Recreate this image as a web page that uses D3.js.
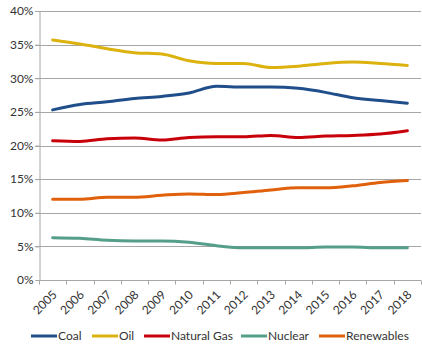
<!DOCTYPE html>
<html>
<head>
<meta charset="utf-8">
<script src="https://cdn.jsdelivr.net/npm/d3@7"></script>
<style>
  html, body { margin: 0; padding: 0; background: #fff; }
  svg { display: block; }
  text { font-family: Lato, "Open Sans", sans-serif; fill: #333; }
</style>
</head>
<body>
<svg id="chart" width="422" height="345"></svg>
<script>
// Share of primary energy by source, 2005–2018
const years = ["2005","2006","2007","2008","2009","2010","2011","2012","2013","2014","2015","2016","2017","2018"];
const coal       = [25.3, 26.1, 26.5, 27.0, 27.3, 27.8, 28.8, 28.7, 28.7, 28.5, 27.9, 27.1, 26.7, 26.3];
const oil        = [35.7, 35.1, 34.4, 33.8, 33.6, 32.6, 32.2, 32.2, 31.6, 31.8, 32.2, 32.4, 32.2, 31.9];
const naturalGas = [20.7, 20.6, 21.0, 21.1, 20.8, 21.2, 21.3, 21.3, 21.5, 21.2, 21.4, 21.5, 21.7, 22.2];
const nuclear    = [6.3, 6.2, 5.9, 5.8, 5.8, 5.6, 5.1, 4.8, 4.8, 4.8, 4.9, 4.9, 4.8, 4.8];
const renewables = [12.0, 12.0, 12.3, 12.3, 12.6, 12.8, 12.7, 13.0, 13.4, 13.7, 13.7, 14.0, 14.5, 14.8];
const yTicks = [0, 5, 10, 15, 20, 25, 30, 35, 40];

const series = [
  { name: "Coal",        values: coal,       color: "#1f4e8a" },
  { name: "Oil",         values: oil,        color: "#dcb20e" },
  { name: "Natural Gas", values: naturalGas, color: "#c8000a" },
  { name: "Nuclear",     values: nuclear,    color: "#559e8a" },
  { name: "Renewables",  values: renewables, color: "#e0600c" }
];

const svg = d3.select("#chart");
const margin = { left: 39, right: 1, top: 11, bottom: 65 };
const W = 422, H = 345;

const x = d3.scaleBand().domain(years).range([margin.left, W - margin.right]);
const y = d3.scaleLinear().domain([0, 40]).range([H - margin.bottom, margin.top]);

// horizontal gridlines
svg.append("g")
  .selectAll("line")
  .data(yTicks.filter(d => d > 0))
  .join("line")
  .attr("x1", margin.left - 4)
  .attr("x2", W - margin.right)
  .attr("y1", d => Math.round(y(d)) + 0.5)
  .attr("y2", d => Math.round(y(d)) + 0.5)
  .attr("stroke", "#a6a6a6")
  .attr("stroke-width", 1);

// y axis
const yAxis = d3.axisLeft(y).tickValues(yTicks).tickSize(4).tickFormat(d => d + "%");
const gy = svg.append("g")
  .attr("transform", `translate(${margin.left + 0.5},0)`)
  .call(yAxis);
gy.select(".domain").attr("stroke", "#a6a6a6");
gy.selectAll(".tick line").attr("stroke", "#a6a6a6");
gy.selectAll(".tick text")
  .attr("x", -6)
  .style("font-size", "12px")
  .style("font-family", "Lato, 'Open Sans', sans-serif")
  .attr("fill", "#333");

// x axis baseline and category boundary ticks
const baseY = Math.round(y(0)) + 0.5;
svg.append("line")
  .attr("x1", margin.left).attr("x2", W - margin.right)
  .attr("y1", baseY).attr("y2", baseY)
  .attr("stroke", "#a6a6a6");
const bounds = years.map(d => x(d)).concat([x(years[years.length - 1]) + x.bandwidth()]);
svg.append("g")
  .selectAll("line")
  .data(bounds)
  .join("line")
  .attr("x1", d => Math.round(d) + 0.5).attr("x2", d => Math.round(d) + 0.5)
  .attr("y1", baseY).attr("y2", baseY + 4)
  .attr("stroke", "#a6a6a6");

// rotated year labels
svg.append("g")
  .selectAll("text")
  .data(years)
  .join("text")
  .attr("transform", d => `translate(${x(d) + x.bandwidth() / 2 + 2},${baseY + 12}) rotate(-45)`)
  .attr("text-anchor", "end")
  .attr("dy", "0.35em")
  .style("font-size", "12px")
  .text(d => d);

// series lines
const line = d3.line()
  .x((d, i) => x(years[i]) + x.bandwidth() / 2)
  .y(d => y(d))
  .curve(d3.curveMonotoneX);

svg.append("g")
  .selectAll("path")
  .data(series)
  .join("path")
  .attr("d", s => line(s.values))
  .attr("fill", "none")
  .attr("stroke", s => s.color)
  .attr("stroke-width", 3)
  .attr("stroke-linejoin", "round")
  .attr("stroke-linecap", "round");

// legend
const legendX = [31, 92, 144, 241, 319];
const legendY = 336;
const lg = svg.append("g")
  .selectAll("g")
  .data(series)
  .join("g")
  .attr("transform", (s, i) => `translate(${legendX[i]},${legendY})`);
lg.append("line")
  .attr("x1", 0).attr("x2", 26)
  .attr("y1", 0).attr("y2", 0)
  .attr("stroke", s => s.color)
  .attr("stroke-width", 3);
lg.append("text")
  .attr("x", 27)
  .attr("dy", "0.35em")
  .style("font-size", "12px")
  .text(s => s.name);
</script>
</body>
</html>
